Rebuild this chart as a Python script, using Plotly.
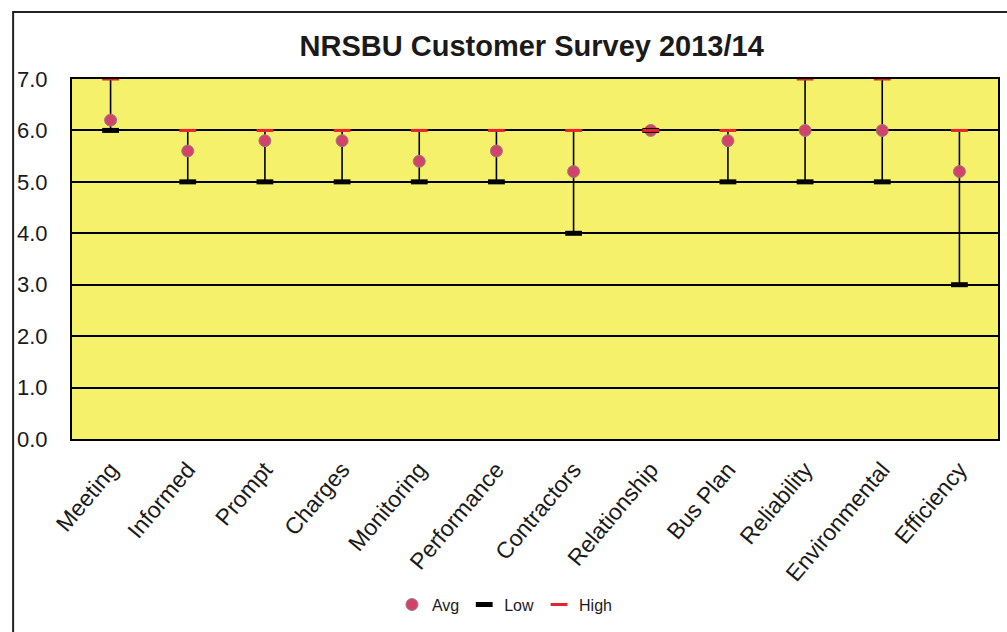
import plotly.graph_objects as go

categories = ["Meeting", "Informed", "Prompt", "Charges", "Monitoring", "Performance",
              "Contractors", "Relationship", "Bus Plan", "Reliability", "Environmental", "Efficiency"]
avg_vals = [6.2, 5.6, 5.8, 5.8, 5.4, 5.6, 5.2, 6.0, 5.8, 6.0, 6.0, 5.2]
low_vals = [6, 5, 5, 5, 5, 5, 4, 6, 5, 5, 5, 3]
high_vals = [7, 6, 6, 6, 6, 6, 6, 6, 6, 7, 7, 6]
y_ticks = [0, 1, 2, 3, 4, 5, 6, 7]

# high-low connecting lines built from the data
line_x, line_y = [], []
for c, lo, hi in zip(categories, low_vals, high_vals):
    line_x += [c, c, None]
    line_y += [lo, hi, None]

fig = go.Figure()
fig.add_trace(go.Scatter(x=line_x, y=line_y, mode="lines",
                         line=dict(color="black", width=1.6),
                         showlegend=False, hoverinfo="skip", cliponaxis=False))
fig.add_trace(go.Scatter(x=categories, y=avg_vals, mode="markers", name="Avg",
                         marker=dict(symbol="circle", size=12, color="#d2436a",
                                     line=dict(color="#9a7f86", width=1)),
                         cliponaxis=False))
fig.add_trace(go.Scatter(x=categories, y=low_vals, mode="markers", name="Low",
                         marker=dict(symbol="line-ew", size=12, color="black",
                                     line=dict(color="black", width=5)),
                         cliponaxis=False))
fig.add_trace(go.Scatter(x=categories, y=high_vals, mode="markers", name="High",
                         marker=dict(symbol="line-ew", size=12, color="#e5232e",
                                     line=dict(color="#e5232e", width=3)),
                         cliponaxis=False))

fig.update_layout(
    width=1007, height=632,
    margin=dict(l=72, r=7, t=79, b=193),
    paper_bgcolor="white",
    plot_bgcolor="#f6f16b",
    font=dict(family="Arial, Liberation Sans, sans-serif", color="#1a1a1a"),
    title=dict(text="<b>NRSBU Customer Survey 2013/14</b>", x=0.528, xanchor="center",
               y=0.927, yanchor="middle", font=dict(size=29, color="#1a1a1a")),
    xaxis=dict(type="category", categoryorder="array", categoryarray=categories,
               tickangle=-50, tickfont=dict(size=23, color="#1a1a1a"),
               showgrid=False, showline=True, linecolor="black", linewidth=2,
               mirror=True, ticks="", ticklabelstandoff=6,
               range=[-0.5, len(categories) - 0.5]),
    yaxis=dict(range=[0, 7], tickvals=y_ticks, tickformat=".1f",
               tickfont=dict(size=22, color="#1a1a1a"),
               showgrid=True, gridcolor="black", gridwidth=1.5,
               showline=True, linecolor="black", linewidth=2, mirror=True,
               zeroline=False, ticks="", ticklabelstandoff=18),
    legend=dict(orientation="h", x=0.467, xanchor="center", y=-0.46, yanchor="middle",
                font=dict(size=16, color="#1a1a1a"), itemwidth=30,
                bgcolor="rgba(0,0,0,0)"),
    shapes=[dict(type="rect", xref="paper", yref="paper",
                 x0=-0.0636, x1=1.02, y0=-0.6, y1=1.186,
                 line=dict(color="#222", width=2), fillcolor="rgba(0,0,0,0)", layer="below")],
)

fig.write_html("out.html")
